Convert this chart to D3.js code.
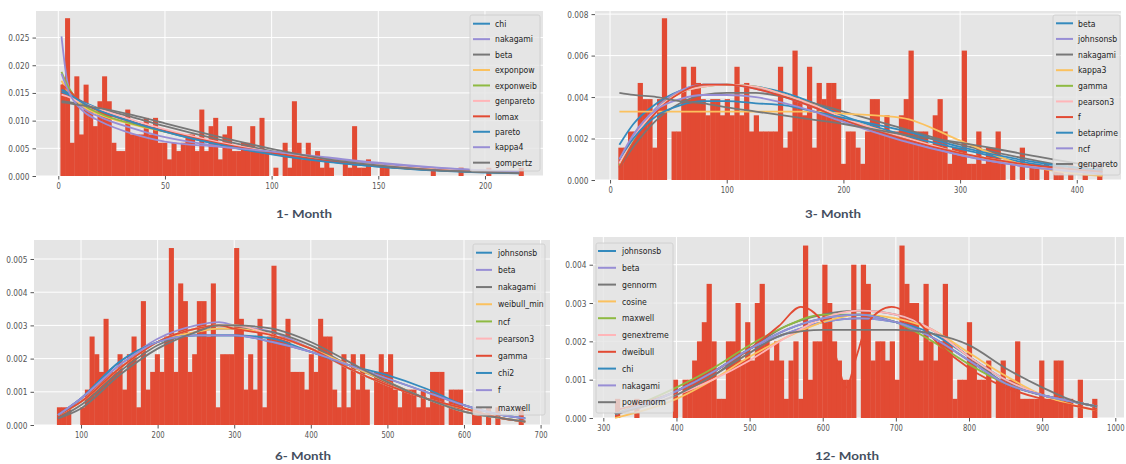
<!DOCTYPE html>
<html>
<head>
<meta charset="utf-8">
<script src="https://cdn.jsdelivr.net/npm/d3@7"></script>
<style>
  body { margin: 0; background: #fff; }
  svg text { font-family: "DejaVu Sans", sans-serif; }
  .title { font-family: Lato, "Open Sans", sans-serif; font-weight: bold; font-size: 12px; fill: #454f5f; }
</style>
</head>
<body>
<svg id="chart" width="1126" height="464"></svg>
<script>
'use strict';

// ---- data ----
// histogram counts (100 bins each), bin range and density of one count
var month1Counts = [11,19,4,12,5,11,8,6,9,12, 9,4,3,3,8,5,5,5,7,5, 7,4,4,2,4,3,4,5,5,3,
  8,3,6,7,2,5,6,3,3,4, 4,6,3,7,3,0,1,0,4,1, 9,4,2,4,2,3,1,2,1,0, 0,2,1,6,1,1,2,0,0,1,
  1,0,0,0,0,0,0,0,0,0, 1,0,0,0,0,0,1,0,0,0, 0,0,1,0,0,0,0,0,0,1];
var month1Range = [1, 218];
var month1Unit = 0.0015;

var month3Counts = [2,2,3,3,6,5,5,2,5,10, 0,3,3,7,5,7,6,5,4,5, 5,4,5,4,7,4,6,3,4,3,
  3,3,3,7,2,3,8,5,4,7, 2,6,5,6,6,5,1,3,3,2, 1,3,5,5,3,4,3,3,4,5, 8,3,3,3,2,4,5,3,1,2,
  2,8,1,1,3,1,2,2,3,1, 0,1,0,2,0,1,1,0,1,0, 1,1,0,1,0,0,1,0,0,1];
var month3Range = [7.1, 421.6];
var month3Unit = 0.00078;

var month6Counts = [1,1,1,0,0,1,2,5,4,3, 6,3,3,4,2,4,5,1,7,2, 3,4,3,5,10,3,8,7,3,4,
  7,7,5,8,1,4,4,4,10,6, 2,4,2,6,1,5,9,5,5,6, 3,3,3,2,4,3,6,5,5,2, 1,4,1,4,2,4,2,0,3,4,
  3,4,2,1,2,2,2,1,2,1, 3,3,3,0,2,2,2,0,0,1, 1,0,1,0,1,0,0,0,0,1];
var month6Range = [68.5, 677.5];
var month6Unit = 0.000533;

var month12Counts = [1,0,0,0,1,0,0,0,0,0, 0,0,2,0,2,2,3,4,5,7, 4,1,1,4,4,6,3,5,3,6,
  7,4,3,4,3,1,3,4,1,9, 2,4,4,8,6,4,3,2,2,8, 0,8,7,3,4,4,3,4,2,9, 7,6,6,3,7,4,3,4,7,4,
  1,2,2,5,3,2,2,3,0,2, 3,2,2,4,1,1,1,1,3,1, 1,3,3,1,1,0,2,0,0,1];
var month12Range = [316, 975];
var month12Unit = 0.0005;

// fitted curves (legend order), sampled at the x values below
var month1Names = ["chi", "nakagami", "beta", "exponpow", "exponweib", "genpareto", "lomax", "pareto", "kappa4", "gompertz"];
var month1X = [1.5, 4, 7, 12, 20, 35, 50, 75, 100, 125, 150, 175, 200, 216];
var month1Curves = [
  [0.0152, 0.0148, 0.0142, 0.0133, 0.0120, 0.0098, 0.0080, 0.0057, 0.0040, 0.0027, 0.0017, 0.0011, 0.0007, 0.0005],
  [0.0252, 0.0175, 0.0142, 0.0122, 0.0106, 0.0086, 0.0070, 0.0054, 0.0043, 0.0032, 0.0022, 0.0015, 0.0010, 0.0008],
  [0.0135, 0.0134, 0.0132, 0.0128, 0.0121, 0.0106, 0.0090, 0.0066, 0.0045, 0.0029, 0.0018, 0.0011, 0.0007, 0.0005],
  [0.0172, 0.0156, 0.0142, 0.0125, 0.0110, 0.0093, 0.0080, 0.0060, 0.0043, 0.0030, 0.0019, 0.0012, 0.0008, 0.0006],
  [0.0188, 0.0166, 0.0147, 0.0128, 0.0112, 0.0094, 0.0080, 0.0059, 0.0042, 0.0028, 0.0018, 0.0011, 0.0007, 0.0005],
  [0.0147, 0.0144, 0.0139, 0.0131, 0.0120, 0.0101, 0.0084, 0.0061, 0.0043, 0.0029, 0.0019, 0.0012, 0.0008, 0.0006],
  [0.0165, 0.0158, 0.0147, 0.0131, 0.0116, 0.0097, 0.0081, 0.0059, 0.0042, 0.0028, 0.0018, 0.0011, 0.0007, 0.0005],
  [0.0156, 0.0151, 0.0143, 0.0131, 0.0117, 0.0097, 0.0080, 0.0057, 0.0039, 0.0026, 0.0017, 0.0010, 0.0006, 0.0005],
  [0.0185, 0.0160, 0.0137, 0.0116, 0.0098, 0.0076, 0.0062, 0.0053, 0.0044, 0.0034, 0.0024, 0.0016, 0.0010, 0.0008],
  [0.0133, 0.0132, 0.0130, 0.0127, 0.0122, 0.0110, 0.0095, 0.0071, 0.0049, 0.0031, 0.0019, 0.0011, 0.0007, 0.0005]
];

var month3Names = ["beta", "johnsonsb", "nakagami", "kappa3", "gamma", "pearson3", "f", "betaprime", "ncf", "genpareto"];
var month3X = [8, 20, 40, 60, 80, 100, 125, 150, 175, 200, 250, 300, 350, 400, 422];
var month3Curves = [
  [0.0017, 0.0027, 0.0037, 0.0043, 0.0046, 0.0046, 0.0045, 0.0042, 0.0037, 0.0031, 0.0022, 0.0015, 0.0009, 0.0005, 0.0004],
  [0.0008, 0.0021, 0.0035, 0.0043, 0.0046, 0.0046, 0.0044, 0.0040, 0.0035, 0.0029, 0.0020, 0.0012, 0.0007, 0.0004, 0.0003],
  [0.0006, 0.0016, 0.0029, 0.0037, 0.0041, 0.0042, 0.0042, 0.0040, 0.0037, 0.0033, 0.0025, 0.0017, 0.0011, 0.0006, 0.0005],
  [0.0033, 0.0033, 0.0033, 0.0033, 0.0033, 0.0033, 0.0033, 0.0033, 0.0033, 0.0032, 0.0030, 0.0019, 0.0008, 0.0003, 0.0002],
  [0.0007, 0.0019, 0.0034, 0.0042, 0.0045, 0.0046, 0.0045, 0.0041, 0.0036, 0.0030, 0.0021, 0.0013, 0.0008, 0.0004, 0.0003],
  [0.0008, 0.0020, 0.0034, 0.0042, 0.0045, 0.0046, 0.0045, 0.0041, 0.0036, 0.0030, 0.0021, 0.0013, 0.0008, 0.0004, 0.0003],
  [0.0006, 0.0018, 0.0033, 0.0042, 0.0046, 0.0046, 0.0044, 0.0040, 0.0035, 0.0029, 0.0020, 0.0013, 0.0008, 0.0005, 0.0004],
  [0.0010, 0.0020, 0.0031, 0.0036, 0.0038, 0.0038, 0.0037, 0.0036, 0.0033, 0.0030, 0.0024, 0.0016, 0.0010, 0.0006, 0.0005],
  [0.0010, 0.0022, 0.0034, 0.0039, 0.0041, 0.0041, 0.0040, 0.0037, 0.0033, 0.0028, 0.0019, 0.0012, 0.0007, 0.0004, 0.0003],
  [0.0042, 0.0041, 0.0040, 0.0038, 0.0037, 0.0035, 0.0033, 0.0031, 0.0029, 0.0027, 0.0022, 0.0018, 0.0013, 0.0008, 0.0006]
];

var month6Names = ["johnsonsb", "beta", "nakagami", "weibull_min", "ncf", "pearson3", "gamma", "chi2", "f", "maxwell"];
var month6X = [70, 100, 150, 200, 250, 280, 300, 350, 400, 450, 500, 550, 600, 650, 680];
var month6Curves = [
  [0.0003, 0.0008, 0.0019, 0.0025, 0.0027, 0.0027, 0.0027, 0.0025, 0.0022, 0.0018, 0.0014, 0.0010, 0.0006, 0.0003, 0.0002],
  [0.0003, 0.0008, 0.0018, 0.0026, 0.0030, 0.0031, 0.0030, 0.0028, 0.0023, 0.0017, 0.0012, 0.0008, 0.0005, 0.0002, 0.0001],
  [0.0002, 0.0006, 0.0016, 0.0024, 0.0028, 0.0029, 0.0029, 0.0028, 0.0024, 0.0018, 0.0013, 0.0008, 0.0004, 0.0002, 0.0001],
  [0.0003, 0.0007, 0.0017, 0.0025, 0.0028, 0.0029, 0.0029, 0.0027, 0.0023, 0.0018, 0.0013, 0.0008, 0.0005, 0.0002, 0.0001],
  [0.0003, 0.0007, 0.0017, 0.0025, 0.0029, 0.0030, 0.0030, 0.0027, 0.0023, 0.0017, 0.0012, 0.0008, 0.0004, 0.0002, 0.0001],
  [0.0003, 0.0007, 0.0017, 0.0025, 0.0029, 0.0030, 0.0030, 0.0027, 0.0023, 0.0017, 0.0012, 0.0008, 0.0004, 0.0002, 0.0001],
  [0.0003, 0.0007, 0.0017, 0.0025, 0.0029, 0.0030, 0.0029, 0.0027, 0.0023, 0.0017, 0.0012, 0.0008, 0.0005, 0.0002, 0.0001],
  [0.0003, 0.0008, 0.0019, 0.0025, 0.0027, 0.0027, 0.0027, 0.0026, 0.0022, 0.0018, 0.0015, 0.0011, 0.0006, 0.0003, 0.0002],
  [0.0003, 0.0008, 0.0018, 0.0025, 0.0027, 0.0027, 0.0027, 0.0025, 0.0022, 0.0018, 0.0014, 0.0010, 0.0006, 0.0003, 0.0002],
  [0.0002, 0.0005, 0.0015, 0.0023, 0.0028, 0.0030, 0.0030, 0.0029, 0.0025, 0.0019, 0.0013, 0.0008, 0.0004, 0.0002, 0.0001]
];

var month12Names = ["johnsonsb", "beta", "gennorm", "cosine", "maxwell", "genextreme", "dweibull", "chi", "nakagami", "powernorm"];
var month12X = [316, 400, 450, 500, 550, 600, 650, 700, 750, 800, 850, 900, 950, 975];
var month12DweibullX = [316, 400, 450, 500, 540, 570, 600, 618, 632, 646, 662, 694, 725, 760, 800, 850, 900, 950, 975];
var month12Curves = [
  [0.0001, 0.0007, 0.0012, 0.0018, 0.0022, 0.0025, 0.0026, 0.0025, 0.0022, 0.0016, 0.0010, 0.0006, 0.0004, 0.0003],
  [0.0001, 0.0007, 0.0012, 0.0018, 0.0022, 0.0025, 0.0026, 0.0025, 0.0021, 0.0015, 0.0009, 0.0006, 0.0004, 0.0003],
  [0.0001, 0.0006, 0.0011, 0.0018, 0.0024, 0.0027, 0.0028, 0.0027, 0.0023, 0.0016, 0.0009, 0.0006, 0.0004, 0.0003],
  [0.0000, 0.0005, 0.0010, 0.0016, 0.0021, 0.0025, 0.0027, 0.0026, 0.0023, 0.0017, 0.0011, 0.0006, 0.0003, 0.0002],
  [0.0001, 0.0008, 0.0013, 0.0019, 0.0024, 0.0027, 0.0027, 0.0025, 0.0020, 0.0014, 0.0009, 0.0006, 0.0004, 0.0003],
  [0.0001, 0.0006, 0.0010, 0.0015, 0.0021, 0.0026, 0.0028, 0.0027, 0.0023, 0.0016, 0.0010, 0.0006, 0.0004, 0.0003],
  [0.0002, 0.0007, 0.0012, 0.0018, 0.0024, 0.0029, 0.0025, 0.0016, 0.0008, 0.0016, 0.0025, 0.0029, 0.0026, 0.0019, 0.0013, 0.0008, 0.0005, 0.0003, 0.0002],
  [0.0001, 0.0007, 0.0012, 0.0018, 0.0023, 0.0026, 0.0027, 0.0025, 0.0021, 0.0015, 0.0009, 0.0006, 0.0004, 0.0003],
  [0.0001, 0.0007, 0.0012, 0.0018, 0.0023, 0.0026, 0.0027, 0.0025, 0.0021, 0.0015, 0.0009, 0.0006, 0.0004, 0.0003],
  [0.0001, 0.0006, 0.0011, 0.0017, 0.0022, 0.0023, 0.0023, 0.0023, 0.0022, 0.0019, 0.0013, 0.0008, 0.0004, 0.0003]
];
var month12CurveX = month12Names.map(function (n) { return n === "dweibull" ? month12DweibullX : month12X; });

// ---- layout ----
var colors = ["#348ABD", "#988ED5", "#777777", "#FBC15E", "#8EBA42", "#FFB5B8", "#E24A33", "#348ABD", "#988ED5", "#777777"];

var panels = [
  { title: "1- Month", titleX: 304, titleY: 218, titleW: 56,
    box: [36, 11, 543, 176], xDomain: [-10.45, 227.2], yMax: 0.0298,
    xTicks: [0, 50, 100, 150, 200], yTicks: [0, 0.005, 0.010, 0.015, 0.020, 0.025],
    counts: month1Counts, range: month1Range, unit: month1Unit,
    names: month1Names, curves: month1Curves, curveX: month1Names.map(function () { return month1X; }),
    legend: { x: 470, y: 15, w: 70, h: 156, first: 8.7, step: 15.44, h0: 3, h1: 20, tx: 25 } },
  { title: "3- Month", titleX: 833, titleY: 218, titleW: 56,
    box: [595, 11, 1121, 180], xDomain: [-12.9, 437.9], yMax: 0.00815,
    xTicks: [0, 100, 200, 300, 400], yTicks: [0, 0.002, 0.004, 0.006, 0.008],
    counts: month3Counts, range: month3Range, unit: month3Unit,
    names: month3Names, curves: month3Curves, curveX: month3Names.map(function () { return month3X; }),
    legend: { x: 1053, y: 15, w: 67, h: 160, first: 8.3, step: 15.63, h0: 3, h1: 20, tx: 25 } },
  { title: "6- Month", titleX: 303, titleY: 460, titleW: 56,
    box: [34, 240, 550, 425], xDomain: [38.6, 712.3], yMax: 0.005572,
    xTicks: [100, 200, 300, 400, 500, 600, 700], yTicks: [0, 0.001, 0.002, 0.003, 0.004, 0.005],
    counts: month6Counts, range: month6Range, unit: month6Unit,
    names: month6Names, curves: month6Curves, curveX: month6Names.map(function () { return month6X; }),
    legend: { x: 473, y: 244, w: 72, h: 171, first: 8.7, step: 17.18, h0: 3, h1: 19, tx: 25 } },
  { title: "12- Month", titleX: 847, titleY: 460, titleW: 64,
    box: [593, 237, 1124, 418], xDomain: [285.9, 1011.9], yMax: 0.004723,
    xTicks: [300, 400, 500, 600, 700, 800, 900, 1000], yTicks: [0, 0.001, 0.002, 0.003, 0.004],
    counts: month12Counts, range: month12Range, unit: month12Unit,
    names: month12Names, curves: month12Curves, curveX: month12CurveX,
    legend: { x: 596, y: 243, w: 77, h: 170, first: 8, step: 16.8, h0: 2, h1: 20, tx: 26 } }
];

// the picture's texts are narrow, so squeeze them horizontally
function squeeze(sel, f) {
  sel.each(function () {
    var w = this.getComputedTextLength();
    d3.select(this).attr("textLength", w * f).attr("lengthAdjust", "spacingAndGlyphs");
  });
}

var svg = d3.select("#chart");

panels.forEach(function (p) {
  var x = d3.scaleLinear().domain(p.xDomain).range([p.box[0], p.box[2]]);
  var y = d3.scaleLinear().domain([0, p.yMax]).range([p.box[3], p.box[1]]);
  var g = svg.append("g");

  g.append("rect")
    .attr("x", p.box[0]).attr("y", p.box[1])
    .attr("width", p.box[2] - p.box[0]).attr("height", p.box[3] - p.box[1])
    .attr("fill", "#E5E5E5");

  // white grid
  g.selectAll(".gx").data(p.xTicks).enter().append("line")
    .attr("x1", d => x(d)).attr("x2", d => x(d))
    .attr("y1", p.box[1]).attr("y2", p.box[3])
    .attr("stroke", "#fff").attr("stroke-width", 1);
  g.selectAll(".gy").data(p.yTicks).enter().append("line")
    .attr("x1", p.box[0]).attr("x2", p.box[2])
    .attr("y1", d => y(d)).attr("y2", d => y(d))
    .attr("stroke", "#fff").attr("stroke-width", 1);

  // histogram
  var n = p.counts.length;
  var bw = (p.range[1] - p.range[0]) / n;
  var bins = p.counts.map(function (c, i) { return { c: c, x0: p.range[0] + i * bw, x1: p.range[0] + (i + 1) * bw }; })
    .filter(d => d.c > 0);
  g.selectAll(".bar").data(bins).enter().append("rect")
    .attr("x", d => x(d.x0))
    .attr("width", d => x(d.x1) - x(d.x0) + 0.4)
    .attr("y", d => y(d.c * p.unit))
    .attr("height", d => y(0) - y(d.c * p.unit))
    .attr("fill", "#E24A33");

  // fitted curves
  p.curves.forEach(function (vals, k) {
    var xs = p.curveX[k];
    var line = d3.line()
      .x((d, i) => x(xs[i]))
      .y(d => y(d))
      .curve(d3.curveMonotoneX);
    g.append("path")
      .attr("d", line(vals))
      .attr("fill", "none")
      .attr("stroke", colors[k])
      .attr("stroke-width", 1.8);
  });

  // axes
  var xAxis = d3.axisBottom(x).tickValues(p.xTicks).tickFormat(d3.format("d")).tickSize(3.5).tickPadding(3);
  var yAxis = d3.axisLeft(y).tickValues(p.yTicks).tickFormat(d3.format(".3f")).tickSize(3.5).tickPadding(3);
  [[xAxis, "translate(0," + p.box[3] + ")", 0.72], [yAxis, "translate(" + p.box[0] + ",0)", 0.78]].forEach(function (a) {
    var ag = g.append("g").attr("transform", a[1]).call(a[0]);
    ag.select(".domain").remove();
    ag.selectAll("line").attr("stroke", "#555");
    var t = ag.selectAll("text").attr("fill", "#555").attr("font-size", 9.5);
    squeeze(t, a[2]);
  });

  // legend
  var L = p.legend;
  var lg = g.append("g");
  lg.append("rect")
    .attr("x", L.x).attr("y", L.y).attr("width", L.w).attr("height", L.h)
    .attr("rx", 2)
    .attr("fill", "#E5E5E5").attr("fill-opacity", 0.8)
    .attr("stroke", "#cccccc").attr("stroke-width", 0.8);
  var items = lg.selectAll(".item").data(p.names).enter().append("g")
    .attr("transform", (d, i) => "translate(" + L.x + "," + (L.y + L.first + i * L.step) + ")");
  items.append("line")
    .attr("x1", L.h0).attr("x2", L.h1)
    .attr("stroke", (d, i) => colors[i]).attr("stroke-width", 2);
  var lt = items.append("text")
    .attr("x", L.tx).attr("dy", "0.35em")
    .attr("font-size", 9.2).attr("fill", "#222")
    .text(d => d);
  squeeze(lt, 0.84);

  // caption under the panel
  svg.append("text")
    .attr("class", "title")
    .attr("x", p.titleX).attr("y", p.titleY)
    .attr("text-anchor", "middle")
    .attr("textLength", p.titleW).attr("lengthAdjust", "spacingAndGlyphs")
    .text(p.title);
});
</script>
</body>
</html>
